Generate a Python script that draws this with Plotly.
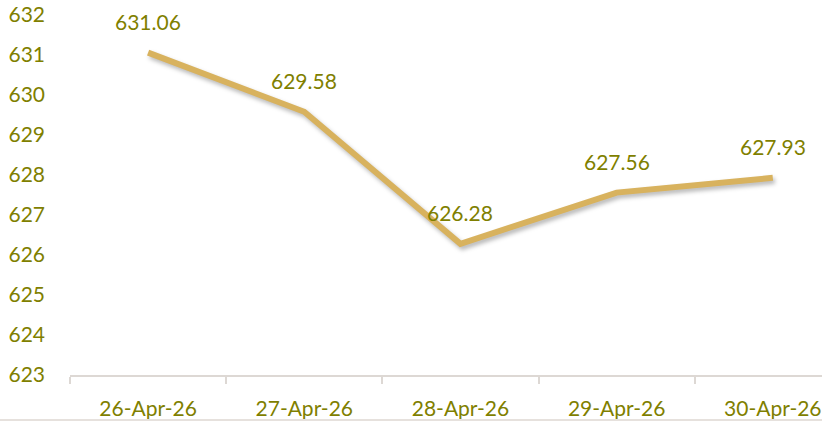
import plotly.graph_objects as go

dates = ["26-Apr-26", "27-Apr-26", "28-Apr-26", "29-Apr-26", "30-Apr-26"]
rates = [631.06, 629.58, 626.28, 627.56, 627.93]
y_ticks = [623, 624, 625, 626, 627, 628, 629, 630, 631, 632]

olive = "#7F7F00"
line_color = "#D8B25E"
font_family = "Lato, Carlito, 'Open Sans', sans-serif"

fig = go.Figure()
fig.add_trace(go.Scatter(
    x=dates, y=rates, mode="lines",
    line=dict(color=line_color, width=6),
    hoverinfo="skip", showlegend=False,
))

for d, v in zip(dates, rates):
    fig.add_annotation(x=d, y=v, text=f"{v:.2f}", showarrow=False,
                       yshift=31, font=dict(size=21, color=olive, family=font_family))

fig.add_shape(type="line", xref="paper", yref="paper", x0=-0.2, x1=1.2, y0=-0.125, y1=-0.125,
              line=dict(color="#E6E1DD", width=2))

fig.update_layout(
    width=822, height=425,
    margin=dict(l=70, r=0, t=15, b=50),
    paper_bgcolor="white", plot_bgcolor="white",
    font=dict(family=font_family, color=olive, size=21),
    hovermode=False,
    xaxis=dict(type="category", range=[-0.5, 4.315], showgrid=False, automargin=False,
               showline=True, linecolor="#DDD8D4", linewidth=2,
               ticks="outside", tickson="boundaries", ticklen=7, tickcolor="#DDD8D4", tickwidth=2,
               ticklabelstandoff=14, ticklabeloverflow="allow",
               tickfont=dict(size=21, color=olive)),
    yaxis=dict(range=[623, 632], tickvals=y_ticks, showgrid=False, showline=False,
               zeroline=False, ticks="", ticklabelstandoff=24, automargin=False,
               ticklabeloverflow="allow",
               tickfont=dict(size=21, color=olive)),
)

post = """
document.body.style.margin = '0';
document.body.style.overflow = 'hidden';
var ln = document.querySelectorAll('.scatterlayer .js-line');
ln.forEach(function(p){ p.style.filter = 'drop-shadow(2px 3px 2px rgba(0,0,0,0.28))'; });
"""
fig.write_html("out.html", post_script=post, config={"displayModeBar": False, "staticPlot": True})
